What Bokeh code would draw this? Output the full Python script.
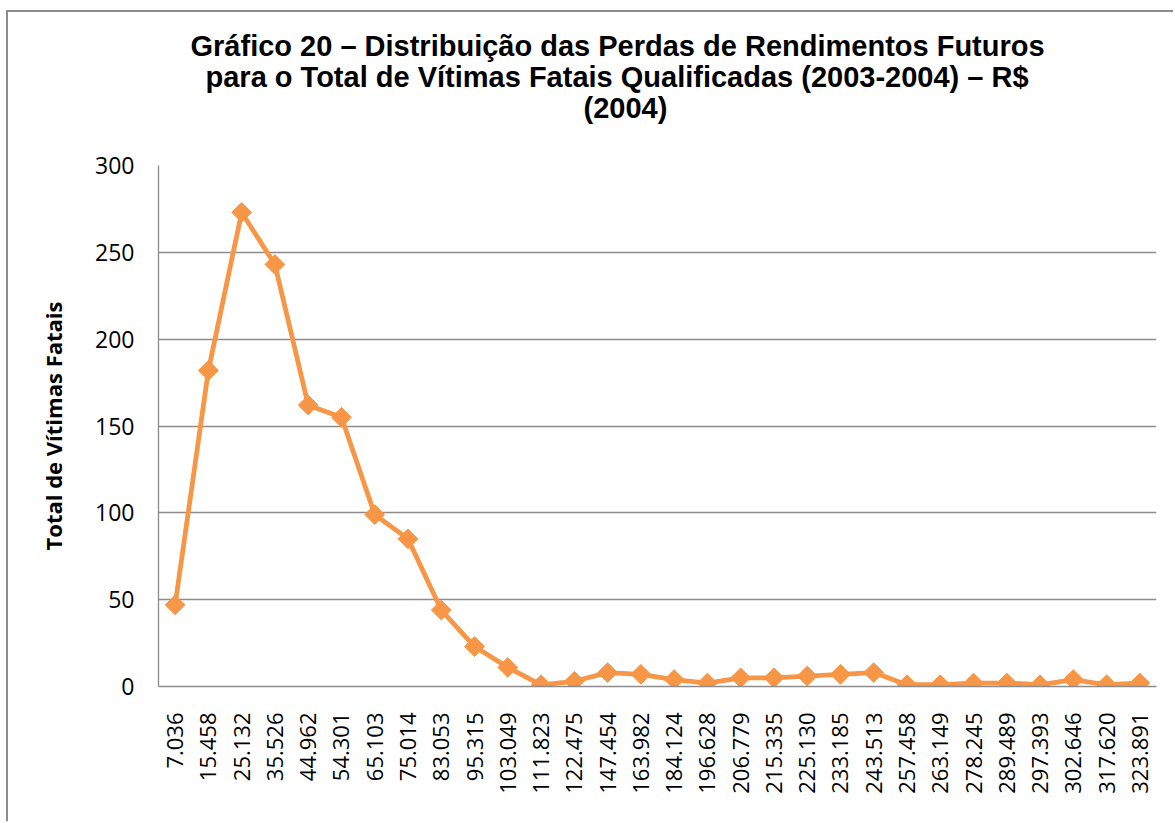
import math
from bokeh.plotting import figure
from bokeh.models import FactorRange, Title, SingleIntervalTicker
from bokeh.embed import file_html
from bokeh.resources import INLINE

categories = ["7.036", "15.458", "25.132", "35.526", "44.962", "54.301", "65.103",
              "75.014", "83.053", "95.315", "103.049", "111.823", "122.475", "147.454",
              "163.982", "184.124", "196.628", "206.779", "215.335", "225.130", "233.185",
              "243.513", "257.458", "263.149", "278.245", "289.489", "297.393", "302.646",
              "317.620", "323.891"]
victims = [47, 182, 273, 243, 162, 155, 99, 85, 44, 23, 11, 1, 3, 8, 7, 4, 2, 5, 5, 6,
           7, 8, 1, 1, 2, 2, 1, 4, 1, 2]

title_lines = ["Gráfico 20 – Distribuição das Perdas de Rendimentos Futuros",
               "para o Total de Vítimas Fatais Qualificadas (2003-2004) – R$",
               "(2004)"]
y_label = "Total de Vítimas Fatais"

ORANGE = "#F79646"
GRID = "#8c8c8c"

p = figure(width=1167, height=811, x_range=FactorRange(*categories, range_padding=0),
           y_range=(0, 300), output_backend="svg", toolbar_location=None,
           min_border_left=150, min_border_right=19, min_border_top=153,
           min_border_bottom=137)
p.outline_line_color = None
p.background_fill_color = "white"
p.border_fill_color = "white"
p.styles = {"margin-left": "6px", "margin-top": "10px",
            "border-left": "2px solid #8c8c8c", "border-top": "2px solid #8c8c8c"}

p.line(categories, victims, line_color=ORANGE, line_width=4.8)
p.scatter(categories, victims, marker="square", size=14, angle=math.pi / 4,
          fill_color=ORANGE, line_color=ORANGE)

p.yaxis.ticker = SingleIntervalTicker(interval=50)
p.ygrid.grid_line_color = GRID
p.ygrid.grid_line_width = 1.3
p.xgrid.grid_line_color = None

for ax in (p.xaxis[0], p.yaxis[0]):
    ax.axis_line_color = GRID
    ax.axis_line_width = 1.3
    ax.major_tick_line_color = None
    ax.minor_tick_line_color = None
    ax.major_tick_out = 0
    ax.major_tick_in = 0
    ax.minor_tick_out = 0
    ax.minor_tick_in = 0
    ax.major_label_text_font = "Open Sans"
    ax.major_label_text_color = "black"

p.yaxis.major_label_text_font_size = "23px"
p.yaxis.major_label_standoff = 24
p.yaxis.axis_label = y_label
p.yaxis.axis_label_text_font = "Open Sans"
p.yaxis.axis_label_text_font_style = "bold"
p.yaxis.axis_label_text_font_size = "22px"
p.yaxis.axis_label_standoff = 24
p.yaxis.axis_label_text_color = "black"

p.xaxis.major_label_text_font_size = "22px"
p.xaxis.major_label_orientation = math.pi / 2
p.xaxis.major_label_standoff = 26

# invisible spacer between the frame and the title block
p.add_layout(Title(text=" ", standoff=30, text_font_size="10px"), "above")

# title lines: added bottom-most first (later additions stack farther from the frame)
offsets = [32, 47, 425]
for i in (2, 1, 0):
    p.add_layout(Title(text=title_lines[i], align="left", offset=offsets[i],
                       standoff=-3, text_font="Liberation Sans",
                       text_font_style="bold", text_font_size="29px",
                       text_color="black"), "above")

open("out.html", "w").write(file_html(p, INLINE))
